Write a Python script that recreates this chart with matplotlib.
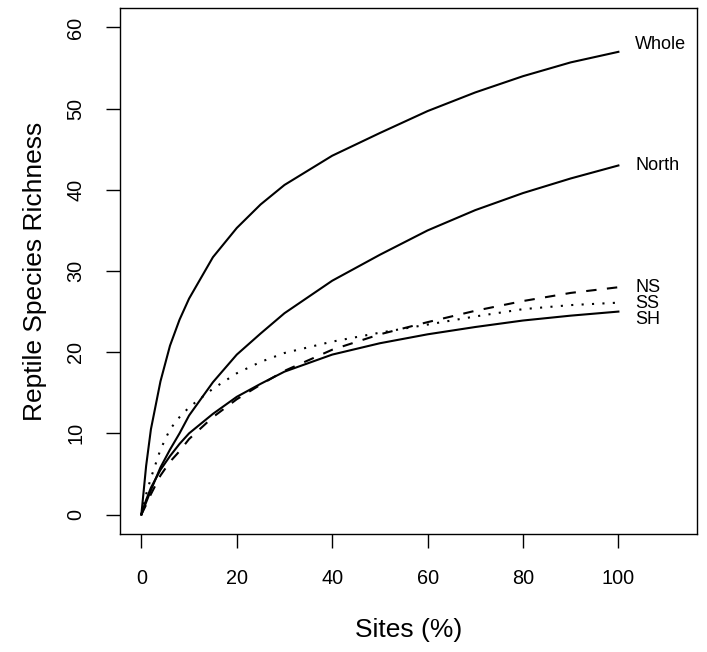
import matplotlib
matplotlib.use("Agg")
import matplotlib.pyplot as plt

plt.rcParams['font.family'] = ['Liberation Sans', 'DejaVu Sans']

# sampling effort (% of sites) and rarefied species counts per region
sites = [0, 1, 2, 4, 6, 8, 10, 15, 20, 25, 30, 40, 50, 60, 70, 80, 90, 100]
whole = [0, 6.0, 10.5, 16.4, 20.8, 24.0, 26.6, 31.7, 35.3, 38.2, 40.6, 44.2, 47.0, 49.7, 52.0, 54.0, 55.7, 57.0]
north = [0, 1.5, 3.0, 5.8, 8.0, 10.0, 12.2, 16.3, 19.7, 22.3, 24.8, 28.8, 32.0, 35.0, 37.5, 39.6, 41.4, 43.0]
ns = [0, 1.2, 2.5, 4.8, 6.5, 7.8, 9.3, 12.0, 14.2, 16.0, 17.7, 20.3, 22.2, 23.7, 25.1, 26.3, 27.3, 28.0]
ss = [0, 2.5, 4.5, 8.0, 10.5, 12.0, 13.2, 15.5, 17.4, 18.8, 19.9, 21.3, 22.4, 23.4, 24.4, 25.3, 25.8, 26.1]
sh = [0, 1.8, 3.3, 5.5, 7.2, 8.7, 10.0, 12.4, 14.5, 16.1, 17.6, 19.7, 21.1, 22.2, 23.1, 23.9, 24.5, 25.0]

labels = ["Whole", "North", "NS", "SS", "SH"]
label_y = [57.9, 43.0, 28.0, 26.0, 24.0]

fig = plt.figure(figsize=(7.07, 6.52), dpi=100)
ax = fig.add_axes([120 / 707, 1 - 534 / 652, 577 / 707, 526 / 652])

ax.plot(sites, whole, color='black', lw=1.5)
ax.plot(sites, north, color='black', lw=1.5)
ax.plot(sites, sh, color='black', lw=1.5)
ax.plot(sites, ns, color='black', lw=1.5, linestyle=(0, (5, 5)))
ax.plot(sites, ss, color='black', lw=1.5, linestyle=(0, (1, 4)))

for lab, yy in zip(labels, label_y):
    ax.text(103.5, yy, lab, fontsize=13, va='center', ha='left')

# R-like axes: 4% padding, outward ticks
ax.set_xlim(-4.48, 116.48)
ax.set_ylim(-2.4, 62.4)
ax.set_xticks([0, 20, 40, 60, 80, 100])
ax.set_yticks([0, 10, 20, 30, 40, 50, 60])
ax.tick_params(direction='out', length=10, width=1, labelsize=14.3, pad=15)
for lbl in ax.get_yticklabels():
    lbl.set_rotation(90)
    lbl.set_va('center')
for sp in ax.spines.values():
    sp.set_linewidth(1)

ax.set_xlabel("Sites (%)", fontsize=19, labelpad=22)
ax.set_ylabel("Reptile Species Richness", fontsize=19, labelpad=14)

fig.savefig("out.png", dpi=100)
